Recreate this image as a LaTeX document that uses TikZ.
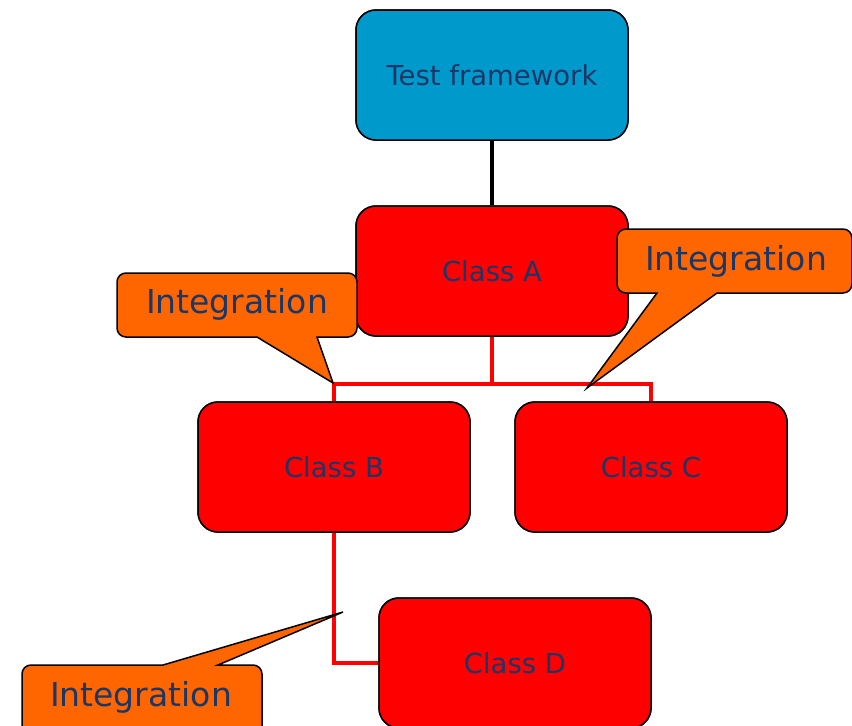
\documentclass[tikz,border=0pt]{standalone}
\usepackage{fontspec}
\setmainfont{DejaVu Sans}
\usetikzlibrary{calc}
\definecolor{tfblue}{HTML}{0099CC}
\definecolor{clsred}{HTML}{FF0000}
\definecolor{calorange}{HTML}{FF6600}
\definecolor{txtnavy}{HTML}{1B3766}
\tikzset{
  x=1pt,y=-1pt,
  classbox/.style={draw=black,line width=1.5pt,rounded corners=20pt,minimum width=272pt,minimum height=130pt,inner sep=0pt,text=txtnavy,font=\fontsize{27.5}{31}\selectfont},
  redlink/.style={draw=clsred,line width=3.8pt},
  blacklink/.style={draw=black,line width=3.8pt},
  calloutshape/.style={fill=calorange,draw=black,line width=1.5pt,line join=miter},
  callouttext/.style={text=txtnavy,font=\fontsize{33}{37}\selectfont,inner sep=0pt}
}
\begin{document}
\begin{tikzpicture}
\useasboundingbox (0,0) rectangle (852,726);
\clip (0,0) rectangle (852,726);
% class boxes (positions)
\node[classbox,fill=tfblue] (tf) at (492,75) {Test framework};
\node[classbox,fill=clsred] (A) at (492,271) {Class A};
\node[classbox,fill=clsred] (B) at (334,467) {Class B};
\node[classbox,fill=clsred] (C) at (651,467) {Class C};
\node[classbox,fill=clsred] (D) at (515,663) {Class D};
% connectors
\draw[blacklink] (tf.south) -- (A.north);
\coordinate (j) at (492,384);
\draw[redlink] (A.south) -- (j);
\draw[redlink,line join=miter] (B.north) |- (j) -| (C.north);
\draw[redlink,line join=miter] (B.south) |- (D.west);
% redraw boxes on top of connectors
\node[classbox,fill=tfblue] at (tf) {Test framework};
\node[classbox,fill=clsred] at (A) {Class A};
\node[classbox,fill=clsred] at (B) {Class B};
\node[classbox,fill=clsred] at (C) {Class C};
\node[classbox,fill=clsred] at (D) {Class D};
% callout 1
\path[calloutshape] (257,337) -- (333,383) -- (317,337)
  [rounded corners=9pt] -- (357,337) -- (357,273) -- (117,273) -- (117,337) [sharp corners] -- cycle;
\node[callouttext] (i1) at (237,304) {Integration};
% callout 2
\path[calloutshape] (717,293) -- (587,388) -- (657,293)
  [rounded corners=9pt] -- (617,293) -- (617,229) -- (852,229) -- (852,293) [sharp corners] -- cycle;
\node[callouttext] (i2) at (736,261) {Integration};
% callout 3
\path[calloutshape] (163,665) -- (343,612) -- (218,665)
  [rounded corners=9pt] -- (262,665) -- (262,740) -- (22,740) -- (22,665) [sharp corners] -- cycle;
\node[callouttext] (i3) at (141,697) {Integration};
\end{tikzpicture}
\end{document}
